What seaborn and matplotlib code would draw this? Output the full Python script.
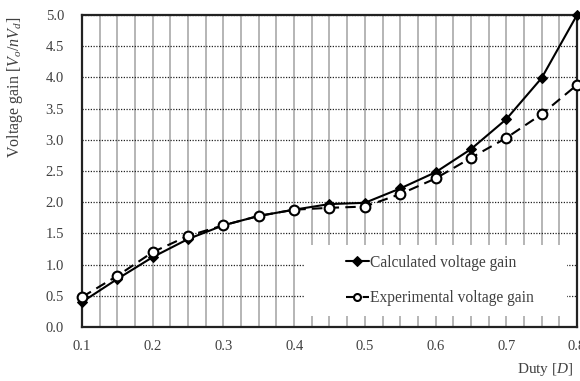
import numpy as np
import pandas as pd
import seaborn as sns
import matplotlib
matplotlib.use("Agg")
import matplotlib.pyplot as plt
from matplotlib.ticker import MultipleLocator
from matplotlib.patches import Rectangle

# ---- data ----
duty = [0.10, 0.15, 0.20, 0.25, 0.30, 0.35, 0.40, 0.45, 0.50, 0.55, 0.60, 0.65, 0.70, 0.75, 0.80]
calculated = [0.40, 0.77, 1.12, 1.41, 1.63, 1.78, 1.88, 1.97, 1.99, 2.22, 2.48, 2.85, 3.33, 3.99, 5.00]
experimental = [0.48, 0.82, 1.20, 1.46, 1.63, 1.78, 1.88, 1.91, 1.93, 2.13, 2.38, 2.71, 3.03, 3.41, 3.88]
series_names = ["Calculated voltage gain", "Experimental voltage gain"]
x_ticks = [0.1, 0.2, 0.3, 0.4, 0.5, 0.6, 0.7, 0.8]
y_ticks = [0.0, 0.5, 1.0, 1.5, 2.0, 2.5, 3.0, 3.5, 4.0, 4.5, 5.0]

df_calc = pd.DataFrame({"duty": duty, "gain": calculated, "series": series_names[0]})
df_exp = pd.DataFrame({"duty": duty, "gain": experimental, "series": series_names[1]})

sns.set_style("white")
plt.rcParams["font.family"] = ["Liberation Serif", "DejaVu Serif"]
plt.rcParams["mathtext.fontset"] = "custom"
plt.rcParams["mathtext.rm"] = "Liberation Serif"
plt.rcParams["mathtext.it"] = "Liberation Serif:italic"

TXT = "#404040"

fig = plt.figure(figsize=(5.8, 3.81), dpi=100)
ax = fig.add_axes([82 / 580, 54 / 381, 495 / 580, 312 / 381])

sns.lineplot(data=df_calc, x="duty", y="gain", ax=ax, color="black", lw=1.5,
             marker="D", markersize=5.5, markerfacecolor="black", markeredgecolor="black",
             label=series_names[0], clip_on=False, zorder=5)
sns.lineplot(data=df_exp, x="duty", y="gain", ax=ax, color="black", lw=1.5,
             linestyle=(0, (5, 3)), marker="o", markersize=7, markerfacecolor="white",
             markeredgecolor="black", markeredgewidth=1.5,
             label=series_names[1], clip_on=False, zorder=6)

ax.set_xlim(0.1, 0.8)
ax.set_ylim(0.0, 5.0)
ax.set_xticks(x_ticks)
ax.set_xticklabels([f"{v:.1f}" for v in x_ticks])
ax.set_yticks(y_ticks)
ax.set_yticklabels([f"{v:.1f}" for v in y_ticks])
ax.xaxis.set_minor_locator(MultipleLocator(0.025))
ax.tick_params(axis="both", which="both", length=0, labelsize=10.5, colors=TXT)
ax.tick_params(axis="x", pad=9)
ax.tick_params(axis="y", pad=13)

ax.grid(axis="x", which="both", color="#b5b5b5", lw=1.4, ls="-", zorder=0)
ax.grid(axis="y", which="major", color="#222222", lw=0.9, ls=(0, (1, 1.2)), zorder=0)
ax.set_axisbelow(True)

for s in ax.spines.values():
    s.set_visible(True)
    s.set_color("#222222")
    s.set_linewidth(1.6)

# white legend background block covering the grid
ax.add_patch(Rectangle(((305 - 82) / 495, (327 - 316) / 312),
                       (567 - 305) / 495, (316 - 245) / 312,
                       transform=ax.transAxes, facecolor="white", edgecolor="none", zorder=2))

ax.set_xlabel("")
ax.set_ylabel("")
fig.text(15 / 580, 1 - 87 / 381, r"Voltage gain [$V_o$/$nV_d$]", rotation=90,
         ha="center", va="center", fontsize=11.5, color=TXT)
fig.text(573 / 580, 1 - 369 / 381, r"Duty [$D$]", ha="right", va="center",
         fontsize=11, color=TXT)

leg = ax.legend(loc="center left", bbox_to_anchor=((346 - 82) / 495, (327 - 280.5) / 312),
                frameon=False, fontsize=11.2, handlelength=1.45, handletextpad=0.1,
                labelspacing=1.25, borderpad=0.0, borderaxespad=0.0)
for t in leg.get_texts():
    t.set_color(TXT)
for h in leg.get_lines():
    h.set_markersize(5)
leg.set_zorder(10)

fig.savefig("out.png", dpi=100)
